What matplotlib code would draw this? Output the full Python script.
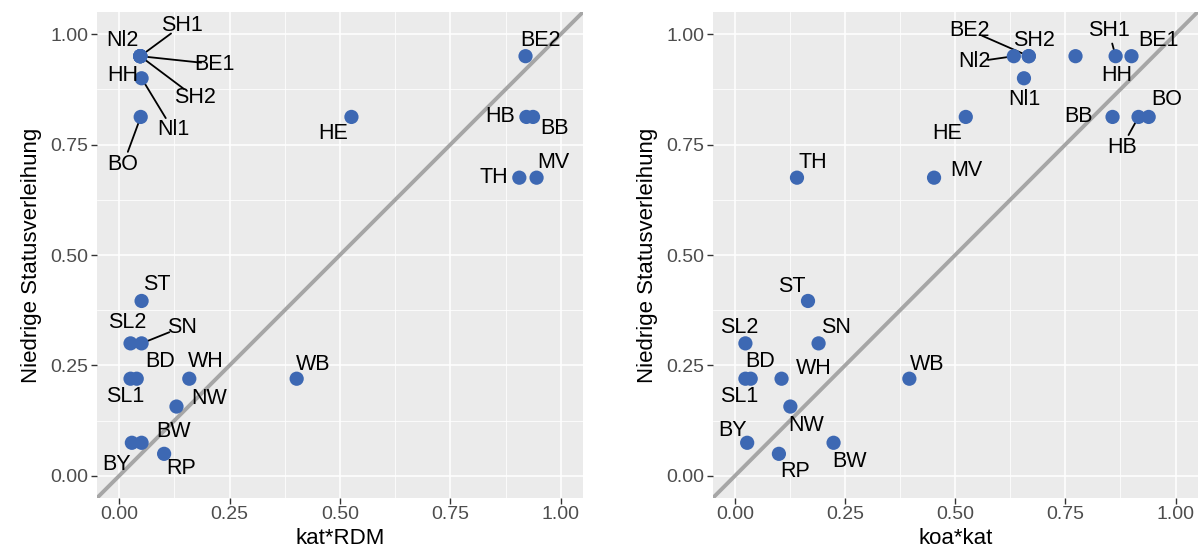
import matplotlib.pyplot as plt
from matplotlib.ticker import MultipleLocator

plt.rcParams["font.family"] = ["Liberation Sans", "DejaVu Sans"]

# states shown as points, same order in all arrays
laender = ["Nl2", "SH1", "BE1", "SH2", "HH", "BE2", "Nl1", "BO", "HE", "HB", "BB",
           "TH", "MV", "ST", "SL2", "SN", "BD", "WH", "SL1", "WB", "NW", "BW",
           "BY", "RP"]
status = [0.95, 0.95, 0.95, 0.95, 0.95, 0.95, 0.90, 0.8125, 0.8125, 0.8125, 0.8125,
          0.675, 0.675, 0.396, 0.30, 0.30, 0.22, 0.22, 0.22, 0.22, 0.157, 0.075,
          0.075, 0.05]
kat_rdm = [0.048, 0.048, 0.048, 0.048, 0.048, 0.92, 0.051, 0.049, 0.526, 0.922, 0.937,
           0.906, 0.945, 0.051, 0.026, 0.051, 0.040, 0.159, 0.026, 0.402, 0.130, 0.051,
           0.029, 0.102]
koa_kat = [0.633, 0.864, 0.900, 0.667, 0.773, 0.667, 0.656, 0.939, 0.524, 0.916, 0.857,
           0.141, 0.452, 0.166, 0.024, 0.190, 0.036, 0.106, 0.024, 0.396, 0.126, 0.224,
           0.028, 0.100]

# label placement (repel-like layout), label -> (x, y, draw segment)
labels_left = {
    "Nl2": (0.007, 0.986, False), "SH1": (0.143, 1.02, True), "BE1": (0.217, 0.932, True),
    "SH2": (0.172, 0.857, True), "HH": (0.009, 0.907, False), "BE2": (0.955, 0.986, False),
    "Nl1": (0.122, 0.783, True), "BO": (0.009, 0.704, True), "HE": (0.484, 0.776, False),
    "HB": (0.862, 0.813, False), "BB": (0.986, 0.787, False), "TH": (0.848, 0.676, False),
    "MV": (0.982, 0.710, False), "ST": (0.086, 0.434, False), "SL2": (0.018, 0.348, False),
    "SN": (0.143, 0.337, True), "BD": (0.093, 0.258, False), "WH": (0.197, 0.258, False),
    "SL1": (0.014, 0.179, False), "WB": (0.439, 0.253, False), "NW": (0.204, 0.176, False),
    "BW": (0.124, 0.100, False), "BY": (-0.005, 0.025, False), "RP": (0.14, 0.016, False),
}
labels_right = {
    "BE2": (0.532, 1.009, True), "SH2": (0.679, 0.986, False), "Nl2": (0.543, 0.937, True),
    "Nl1": (0.656, 0.851, False), "SH1": (0.848, 1.009, True), "BE1": (0.962, 0.986, False),
    "HH": (0.867, 0.907, False), "BB": (0.78, 0.813, False), "BO": (0.98, 0.851, False),
    "HB": (0.878, 0.744, True), "HE": (0.482, 0.776, False), "TH": (0.176, 0.710, False),
    "MV": (0.525, 0.692, False), "ST": (0.129, 0.428, False), "SL2": (0.011, 0.335, False),
    "SN": (0.229, 0.335, False), "BD": (0.057, 0.258, False), "WH": (0.179, 0.244, False),
    "WB": (0.437, 0.253, False), "SL1": (0.011, 0.179, False), "NW": (0.161, 0.115, False),
    "BY": (-0.005, 0.102, False), "BW": (0.26, 0.032, False), "RP": (0.136, 0.011, False),
}

fig = plt.figure(figsize=(12, 5.58), dpi=100)
ax1 = fig.add_axes([0.0808, 0.1075, 0.405, 0.871])
ax2 = fig.add_axes([0.594, 0.1075, 0.404, 0.871])


def draw_panel(ax, xs, lab_pos, xlabel):
    ax.set_facecolor("#EBEBEB")
    ax.set_xlim(-0.05, 1.05)
    ax.set_ylim(-0.05, 1.05)
    for s in ax.spines.values():
        s.set_visible(False)
    ax.xaxis.set_major_locator(MultipleLocator(0.25))
    ax.yaxis.set_major_locator(MultipleLocator(0.25))
    ax.xaxis.set_minor_locator(MultipleLocator(0.125))
    ax.yaxis.set_minor_locator(MultipleLocator(0.125))
    ax.grid(which="major", color="white", linewidth=1.1)
    ax.grid(which="minor", color="white", linewidth=0.55)
    ax.set_axisbelow(True)
    ax.tick_params(which="major", length=4, width=1, color="#333333",
                   labelsize=14, labelcolor="#4D4D4D", pad=2)
    ax.tick_params(which="minor", length=0)
    ax.xaxis.set_major_formatter(lambda v, p: f"{v:.2f}")
    ax.yaxis.set_major_formatter(lambda v, p: f"{v:.2f}")
    ax.set_xlabel(xlabel, fontsize=16, labelpad=3)
    ax.set_ylabel("Niedrige Statusverleihung", fontsize=16, labelpad=6)

    ax.axline((0, 0), slope=1, color="#A6A6A6", linewidth=2.8, zorder=2)

    for name, x, y in zip(laender, xs, status):
        tx, ty, seg = lab_pos[name]
        if seg:
            ax.annotate("", xy=(x, y), xytext=(tx, ty),
                        arrowprops=dict(arrowstyle="-", color="black", lw=1.3,
                                        shrinkA=10, shrinkB=0), zorder=3)
        ax.text(tx, ty, name, fontsize=15.5, ha="center", va="center", zorder=5)
    ax.scatter(xs, status, s=105, color="#3D68B3", edgecolors="none", zorder=4)


draw_panel(ax1, kat_rdm, labels_left, "kat*RDM")
draw_panel(ax2, koa_kat, labels_right, "koa*kat")

fig.savefig("out.png", dpi=100)
